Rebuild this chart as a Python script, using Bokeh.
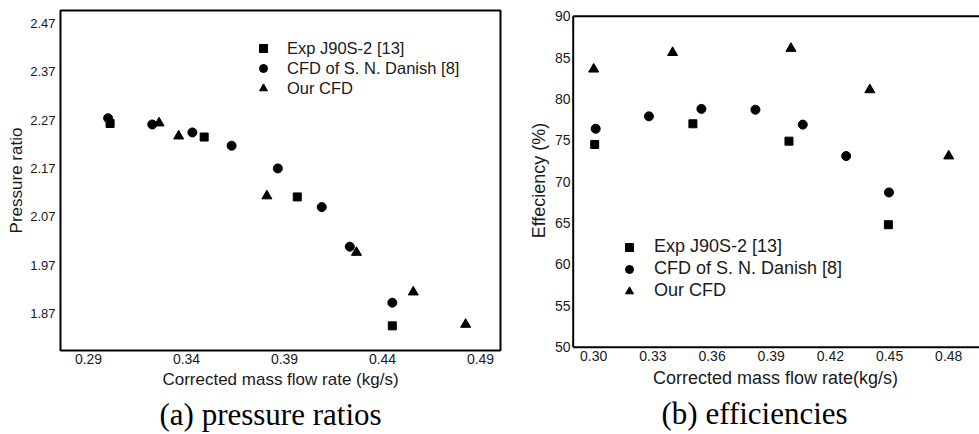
from bokeh.plotting import figure
from bokeh.layouts import row
from bokeh.models import (Legend, LegendItem, FixedTicker, Title, Range1d,
                          PrintfTickFormatter)
from bokeh.embed import file_html
from bokeh.resources import INLINE

# ---------------- data ----------------
series_names = ["Exp J90S-2 [13]", "CFD of S. N. Danish [8]", "Our CFD"]

pr_exp_x = [0.301, 0.349, 0.3965, 0.445]
pr_exp_y = [2.263, 2.235, 2.111, 1.844]
pr_dan_x = [0.300, 0.3225, 0.343, 0.363, 0.3866, 0.409, 0.4233, 0.445]
pr_dan_y = [2.274, 2.261, 2.2445, 2.217, 2.170, 2.090, 2.008, 1.892]
pr_our_x = [0.326, 0.336, 0.381, 0.4267, 0.4557, 0.4824]
pr_our_y = [2.264, 2.237, 2.113, 1.996, 1.914, 1.847]

ef_exp_x = [0.3005, 0.3503, 0.399, 0.4494]
ef_exp_y = [74.5, 77.0, 74.9, 64.8]
ef_dan_x = [0.301, 0.328, 0.3546, 0.382, 0.406, 0.428, 0.4497]
ef_dan_y = [76.4, 77.9, 78.8, 78.7, 76.9, 73.1, 68.7]
ef_our_x = [0.300, 0.340, 0.400, 0.440, 0.480]
ef_our_y = [83.6, 85.6, 86.1, 81.1, 73.1]

pr_xticks = [0.29, 0.34, 0.39, 0.44, 0.49]
pr_yticks = [1.87, 1.97, 2.07, 2.17, 2.27, 2.37, 2.47]
ef_xticks = [0.30, 0.33, 0.36, 0.39, 0.42, 0.45, 0.48]
ef_yticks = [50, 55, 60, 65, 70, 75, 80, 85, 90]

captions = ["(a) pressure ratios", "(b) efficiencies"]

FONT = "Liberation Sans"
SERIF = "Liberation Serif"
TXT = "#1a1a1a"
H = 434


def style_axes(p, tick_size, label_size):
    for ax in (p.xaxis[0], p.yaxis[0]):
        ax.major_tick_line_color = None
        ax.minor_tick_line_color = None
        ax.major_tick_out = 0
        ax.major_tick_in = 0
        ax.minor_tick_out = 0
        ax.minor_tick_in = 0
        ax.axis_line_color = None
        ax.major_label_text_font = FONT
        ax.major_label_text_font_size = tick_size
        ax.major_label_text_color = TXT
        ax.axis_label_text_font = FONT
        ax.axis_label_text_font_size = label_size
        ax.axis_label_text_font_style = "normal"
        ax.axis_label_text_color = TXT
    p.xgrid.visible = False
    p.ygrid.visible = False


def add_series(p, xs_list, ys_list):
    rs = []
    rs.append(p.scatter(xs_list[0], ys_list[0], marker="square", size=8, color="black"))
    rs.append(p.scatter(xs_list[1], ys_list[1], marker="circle", size=9, color="black"))
    rs.append(p.scatter(xs_list[2], ys_list[2], marker="triangle", size=10, color="black"))
    return rs


def make_legend(rs, loc, spacing, standoff, size):
    return Legend(items=[LegendItem(label=n, renderers=[r]) for n, r in zip(series_names, rs)],
                  location=loc, padding=0, margin=0, spacing=spacing,
                  glyph_width=20, glyph_height=20, label_height=20, label_standoff=standoff,
                  label_text_font=FONT, label_text_font_size=size,
                  label_text_color=TXT,
                  border_line_color=None, background_fill_alpha=0)


def make_caption(text, offset, standoff):
    return Title(text=text, align="left", offset=offset, standoff=standoff,
                 text_font=SERIF, text_font_size="31px", text_font_style="normal",
                 text_color="black")


# ---------------- (a) pressure ratio ----------------
xr1 = Range1d(0.2757, 0.5002)
yr1 = Range1d(1.793, 2.497)
p1 = figure(title=None, width=505, height=H, output_backend="svg",
            toolbar_location=None, x_range=xr1, y_range=yr1,
            min_border_left=60, min_border_right=5, min_border_top=10,
            min_border_bottom=84)
p1.outline_line_color = "black"
p1.outline_line_width = 2
p1.xaxis.ticker = FixedTicker(ticks=pr_xticks)
p1.yaxis.ticker = FixedTicker(ticks=pr_yticks)
p1.xaxis.formatter = PrintfTickFormatter(format="%.2f")
p1.yaxis.formatter = PrintfTickFormatter(format="%.2f")
p1.xaxis.axis_label = "Corrected mass flow rate (kg/s)"
p1.yaxis.axis_label = "Pressure ratio"
style_axes(p1, "14px", "17px")
p1.yaxis.major_label_text_font_size = "13px"
p1.xaxis.major_label_standoff = 3
p1.yaxis.major_label_standoff = 5
p1.xaxis.axis_label_standoff = 3
p1.yaxis.axis_label_standoff = 1
rs1 = add_series(p1, [pr_exp_x, pr_dan_x, pr_our_x], [pr_exp_y, pr_dan_y, pr_our_y])
p1.add_layout(make_legend(rs1, (193, 252), 0, 14, "16.5px"))
p1.add_layout(make_caption(captions[0], 99, 6), "below")

# ---------------- (b) efficiency ----------------
# the panel's visible box runs from 50 to 90 % and starts at 0.2896 kg/s;
# its right edge lies beyond the picture, as in the original figure
box_x0 = 0.2896
box_y0 = ef_yticks[0]
box_y1 = ef_yticks[-1]
xr2 = Range1d(0.28874, 0.4956)
yr2 = Range1d(49.6, 90.69)
p2 = figure(title=None, width=474, height=H, output_backend="svg",
            toolbar_location=None, x_range=xr2, y_range=yr2,
            min_border_left=66, min_border_right=0, min_border_top=10,
            min_border_bottom=84)
p2.outline_line_color = None
p2.xaxis.ticker = FixedTicker(ticks=ef_xticks)
p2.yaxis.ticker = FixedTicker(ticks=ef_yticks)
p2.xaxis.formatter = PrintfTickFormatter(format="%.2f")
p2.xaxis.axis_label = "Corrected mass flow rate(kg/s)"
p2.yaxis.axis_label = "Effeciency (%)"
style_axes(p2, "14px", "18px")
p2.xaxis.major_label_standoff = 0
p2.yaxis.major_label_standoff = 1
p2.xaxis.axis_label_standoff = 4
p2.yaxis.axis_label_standoff = 3
p2.segment(x0=[box_x0, box_x0, box_x0], y0=[box_y0, box_y0, box_y1],
           x1=[box_x0, xr2.end, xr2.end], y1=[box_y1, box_y0, box_y1],
           line_color="black", line_width=2)
rs2 = add_series(p2, [ef_exp_x, ef_dan_x, ef_our_x], [ef_exp_y, ef_dan_y, ef_our_y])
p2.add_layout(make_legend(rs2, (48, 49), 1, 15, "18px"))
p2.add_layout(make_caption(captions[1], 90, 7), "below")

layout = row(p1, p2)
open("out.html", "w").write(file_html(layout, INLINE))
